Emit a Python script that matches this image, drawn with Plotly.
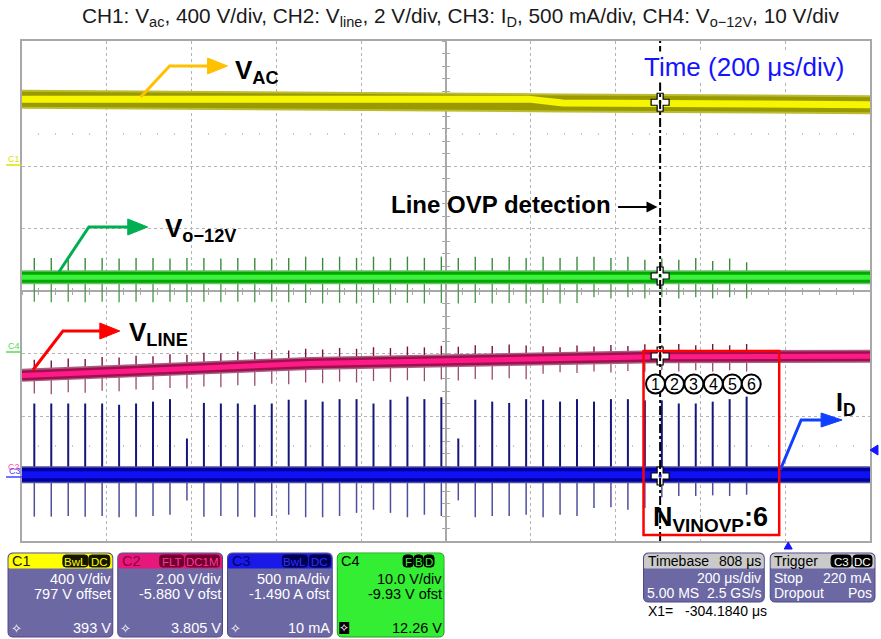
import numpy as np
import plotly.graph_objects as go

# ---------------- data (x: µs from left edge of 2 ms screen, y: screen divisions from centre) -------
pulse_us = [29, 69, 109, 149, 189, 229, 269, 309, 349, 389,
            429, 469, 509, 549, 589, 629, 669, 709, 749, 789,
            829, 869, 909, 949, 989, 1029, 1069, 1109, 1149, 1189,
            1229, 1269, 1309, 1349, 1389, 1429, 1469, 1509, 1549, 1589,
            1629, 1669, 1709]

# CH3 I_D
id_t = [0, 2000]
id_y = [-2.94, -2.94]
id_peak = [-1.80, -1.80, -1.80, -1.80, -1.80, -1.82, -1.80, -1.77, -1.73, -2.36,
           -1.79, -1.80, -1.80, -1.82, -1.80, -1.74, -1.74, -1.77, -1.73, -1.73,
           -1.80, -1.74, -1.69, -1.73, -1.70, -2.36, -1.74, -1.77, -1.79, -1.73,
           -1.74, -1.77, -1.73, -1.77, -1.73, -1.73, -1.75, -1.75, -1.80, -1.80,
           -1.77, -1.73, -1.69]
id_trough = [-3.61, -3.61, -3.60, -3.61, -3.60, -3.62, -3.61, -3.60, -3.58, -3.35,
             -3.61, -3.60, -3.61, -3.62, -3.60, -3.58, -3.62, -3.62, -3.60, -3.55,
             -3.50, -3.55, -3.62, -3.58, -3.60, -3.35, -3.62, -3.60, -3.60, -3.58,
             -3.62, -3.58, -3.60, -3.47, -3.46, -3.50, -3.47, -3.30, -3.28, -3.28,
             -3.27, -3.28, -3.26]

# CH4 Vo-12V
vo_t = [0, 2000]
vo_y = [0.22, 0.22]
vo_peak = [0.53, 0.53, 0.52, 0.53, 0.53, 0.52, 0.53, 0.53, 0.52, 0.53,
           0.53, 0.52, 0.53, 0.53, 0.52, 0.53, 0.55, 0.53, 0.55, 0.53,
           0.55, 0.53, 0.55, 0.53, 0.55, 0.53, 0.55, 0.53, 0.55, 0.53,
           0.55, 0.53, 0.55, 0.55, 0.53, 0.55, 0.50, 0.52, 0.50, 0.53,
           0.48, 0.52, 0.46]
vo_trough = [-0.17, -0.18, -0.17, -0.18, -0.17, -0.18, -0.17, -0.18, -0.17, -0.18,
             -0.17, -0.18, -0.17, -0.18, -0.17, -0.18, -0.19, -0.20, -0.19, -0.20,
             -0.19, -0.20, -0.19, -0.20, -0.19, -0.20, -0.19, -0.20, -0.19, -0.20,
             -0.19, -0.20, -0.19, -0.10, -0.12, -0.10, -0.12, -0.10, -0.12, -0.10,
             -0.12, -0.10, -0.12]

# CH2 Vline
vline_t = [0, 678, 1335, 1500, 2000]
vline_y = [-1.35, -1.16, -1.07, -1.05, -1.045]
vline_up = [0.24, 0.22, 0.24, 0.22, 0.24, 0.22, 0.24, 0.22, 0.24, 0.22,
            0.24, 0.22, 0.24, 0.22, 0.24, 0.22, 0.24, 0.22, 0.24, 0.22,
            0.24, 0.22, 0.24, 0.22, 0.24, 0.22, 0.24, 0.22, 0.24, 0.22,
            0.20, 0.18, 0.20, 0.18, 0.20, 0.18, 0.20, 0.18, 0.20, 0.18,
            0.20, 0.18, 0.20]
vline_dn = [0.30, 0.32, 0.30, 0.32, 0.30, 0.32, 0.30, 0.32, 0.30, 0.32,
            0.30, 0.32, 0.30, 0.32, 0.30, 0.32, 0.30, 0.32, 0.30, 0.32,
            0.30, 0.32, 0.30, 0.32, 0.30, 0.32, 0.30, 0.32, 0.30, 0.32,
            0.24, 0.22, 0.24, 0.22, 0.24, 0.22, 0.24, 0.22, 0.24, 0.22,
            0.24, 0.22, 0.24]

# CH1 Vac
vac_t = [0, 1195, 1275, 2000]
vac_y = [3.07, 3.07, 3.01, 2.98]

cursor_us = 1505
cursor_levels = [3.02, 0.24, -1.04, -2.96]
cursor_colors = ['#d0d000', '#00c000', '#ff2080', '#2020ff']
circle_labels = ['1', '2', '3', '4', '5', '6']

# ---------------- geometry helpers (pixel -> data / paper) ----------------
L, R, T, B = 22, 872, 41, 541
def X(px): return (px - L) / (R - L) * 2000
def Y(py): return (291 - py) / 62.5
def PX(px): return (px - L) / (R - L)
def PY(py): return (B - py) / (B - T)

FONT = "Liberation Sans, Arial, Helvetica, sans-serif"

fig = go.Figure()

def spike_trace(base_t, base_y, tops, color, width):
    xs, ys = [], []
    for t, top in zip(pulse_us, tops):
        b = float(np.interp(t, base_t, base_y))
        xs += [t, t, None]
        ys += [b, top, None]
    fig.add_trace(go.Scatter(x=xs, y=ys, mode='lines',
                             line=dict(color=color, width=width), hoverinfo='skip'))

def band(bt, by, fuzz, outer, core, w_fuzz, w_out, w_core):
    for c, w in [(fuzz, w_fuzz), (outer, w_out), (core, w_core)]:
        fig.add_trace(go.Scatter(x=bt, y=by, mode='lines', line=dict(color=c, width=w),
                                 hoverinfo='skip'))

# CH1
band(vac_t, vac_y, '#bcbc30', '#9a9a00', '#f6f600', 19, 15, 7)
# CH4
spike_trace(vo_t, vo_y, vo_peak, '#3a8c3a', 1.4)
spike_trace(vo_t, vo_y, vo_trough, '#4a944a', 1.3)
band(vo_t, vo_y, '#6ac06a', '#00a800', '#3cf03c', 14, 11, 5)
# CH2
vl_up_abs = [float(np.interp(t, vline_t, vline_y)) + u for t, u in zip(pulse_us, vline_up)]
vl_dn_abs = [float(np.interp(t, vline_t, vline_y)) - d for t, d in zip(pulse_us, vline_dn)]
spike_trace(vline_t, vline_y, vl_up_abs, '#7a1044', 1.4)
spike_trace(vline_t, vline_y, vl_dn_abs, '#9a4a70', 1.3)
band(vline_t, vline_y, '#a86080', '#a01050', '#ff1a88', 13, 10, 5)
# CH3
spike_trace(id_t, id_y, id_peak, '#16167a', 2)
spike_trace(id_t, id_y, id_trough, '#50509a', 1.5)
band(id_t, id_y, '#5050a0', '#0000a0', '#1010f5', 17, 14, 7)

# cursor crosses
fig.add_trace(go.Scatter(x=[cursor_us] * 4, y=cursor_levels, mode='markers',
                         marker=dict(symbol='cross', size=15, color='white',
                                     line=dict(color='black', width=1.2)),
                         hoverinfo='skip'))
fig.add_trace(go.Scatter(x=[cursor_us] * 4, y=cursor_levels, mode='markers',
                         marker=dict(symbol='square', size=3, color=cursor_colors),
                         hoverinfo='skip'))

# dummy traces to instantiate overlay axes
for xa, ya in [('x2', 'y'), ('x3', 'y'), ('x4', 'y'), ('x5', 'y'), ('x', 'y2'), ('x', 'y3')]:
    fig.add_trace(go.Scatter(x=[None], y=[None], xaxis=xa, yaxis=ya, showlegend=False))

GRID = '#b4b4b4'
AX = '#a8a8a8'
base_x = dict(range=[0, 2000], showticklabels=False, zeroline=False, showgrid=False)
base_y = dict(range=[-4, 4], showticklabels=False, zeroline=False, showgrid=False)

fig.update_layout(
    width=881, height=639, autosize=False,
    margin=dict(l=L, r=881 - R, t=T, b=639 - B, pad=0),
    paper_bgcolor='white', plot_bgcolor='white', showlegend=False,
    xaxis=dict(range=[0, 2000], showgrid=True, dtick=200, tick0=0, griddash='dot',
               gridcolor=GRID, gridwidth=1, showline=True, mirror=True, linecolor=AX,
               linewidth=1.5, ticks='', showticklabels=False, zeroline=False),
    yaxis=dict(range=[-4, 4], showgrid=True, dtick=1, tick0=0, griddash='dot',
               gridcolor=GRID, gridwidth=1, showline=True, mirror=True, linecolor=AX,
               linewidth=1.5, ticks='', showticklabels=False, zeroline=False),
    xaxis2=dict(base_x, overlaying='x', anchor='free', position=0.5, showline=True,
                linecolor=AX, linewidth=1.5, ticks='outside', ticklen=3, tickwidth=1,
                tickcolor=AX, dtick=40, tick0=0, layer='below traces'),
    xaxis3=dict(base_x, overlaying='x', anchor='free', position=0.5, showline=False,
                ticks='inside', ticklen=3, tickwidth=1, tickcolor=AX, dtick=40, tick0=0,
                layer='below traces'),
    xaxis4=dict(base_x, overlaying='x', anchor='free', position=0.8125, showline=False,
                ticks='inside', ticklen=2, tickwidth=1.2, tickcolor='#c4c4c4', dtick=40,
                tick0=0, layer='below traces'),
    xaxis5=dict(base_x, overlaying='x', anchor='free', position=0.1875, showline=False,
                ticks='inside', ticklen=2, tickwidth=1.2, tickcolor='#c4c4c4', dtick=40,
                tick0=0, layer='below traces'),
    yaxis2=dict(base_y, overlaying='y', anchor='free', position=0.5, showline=True,
                linecolor=AX, linewidth=1.5, ticks='outside', ticklen=3, tickwidth=1,
                tickcolor=AX, dtick=0.2, tick0=0, layer='below traces'),
    yaxis3=dict(base_y, overlaying='y', anchor='free', position=0.5, showline=False,
                ticks='inside', ticklen=3, tickwidth=1, tickcolor=AX, dtick=0.2, tick0=0,
                layer='below traces'),
)

shapes = []
ann = []

def txt(px, py, text, size, color, xanchor='left', bold=False, bg=None):
    if bold:
        text = '<b>' + text + '</b>'
    a = dict(x=PX(px), y=PY(py), xref='paper', yref='paper', text=text,
             showarrow=False, xanchor=xanchor, yanchor='middle',
             font=dict(family=FONT, size=size, color=color), borderpad=0)
    if bg:
        a['bgcolor'] = bg
    ann.append(a)

# title
txt(462, 17, "CH1: V<sub>ac</sub>, 400 V/div, CH2: V<sub>line</sub>, 2 V/div, CH3: I<sub>D</sub>, "
    "500 mA/div, CH4: V<sub>o\u221212V</sub>, 10 V/div", 20.8, '#1a1a1a', 'center')
txt(644, 67, "Time (200 \u03bcs/div)", 26, '#1414ff', bg='white')
txt(391, 205, "Line OVP detection", 24, 'black', bold=True)

# trace labels
txt(235, 71, "V<sub>AC</sub>", 26, 'black', bold=True)
txt(164, 229, "V<sub>o\u221212V</sub>", 26, 'black', bold=True)
txt(128, 333, "V<sub>LINE</sub>", 26, 'black', bold=True)
txt(837, 404, "I<sub>D</sub>", 25, 'black', bold=True)
txt(712, 519, "N<sub>VINOVP</sub>:6", 27, 'black', 'center', bold=True)

# Line OVP arrow
ann.append(dict(x=X(659), y=Y(207), ax=X(618), ay=Y(207), axref='x', ayref='y',
                xref='x', yref='y', text='', showarrow=True, arrowhead=2, arrowsize=1.1,
                arrowwidth=2, arrowcolor='black'))

def P(px, py):
    return f"{X(px):.3f},{Y(py):.4f}"

def bent_arrow(pts, head, color):
    path = "M " + " L ".join(P(a, b) for a, b in pts)
    shapes.append(dict(type='path', xref='x', yref='y', path=path,
                       line=dict(color=color, width=3)))
    hpath = "M " + " L ".join(P(a, b) for a, b in head) + " Z"
    shapes.append(dict(type='path', xref='x', yref='y', path=hpath,
                       fillcolor=color, line=dict(color=color, width=1)))

bent_arrow([(141, 97), (170, 66), (210, 66)], [(208, 58), (228, 66), (208, 74)], '#ffc000')
bent_arrow([(59, 272), (89, 227), (130, 227)], [(128, 219), (148, 227), (128, 235)], '#00b050')
bent_arrow([(33, 370), (63, 331), (102, 331)], [(100, 323), (120, 331), (100, 339)], '#ff0000')
bent_arrow([(782, 470), (803, 420), (826, 420)], [(823, 413), (844, 420), (823, 427)], '#1040ff')

# cursor dash-dot line (drawn below the text annotations)
shapes.append(dict(type='line', xref='x', yref='paper', x0=cursor_us, x1=cursor_us, y0=0, y1=1,
                   line=dict(color='black', width=2, dash='dashdot')))

# red box
shapes.append(dict(type='rect', xref='x', yref='y', x0=X(645), x1=X(781), y0=Y(535), y1=Y(351),
                   line=dict(color='#ff0000', width=2.5)))

# circled numbers
for cx, lab in zip([657, 676, 695.5, 715, 734, 753], circle_labels):
    shapes.append(dict(type='circle', xref='x', yref='y', x0=X(cx - 9.5), x1=X(cx + 9.5),
                       y0=Y(384 + 9.5), y1=Y(384 - 9.5), fillcolor='white',
                       line=dict(color='black', width=2)))
    ann.append(dict(x=X(cx), y=Y(384.5), xref='x', yref='y', text=lab, showarrow=False,
                    xanchor='center', yanchor='middle',
                    font=dict(family=FONT, size=16, color='black')))

# left channel markers
txt(7, 159, "C1", 9, '#e0e000')
shapes.append(dict(type='line', xref='paper', yref='paper', x0=PX(6), x1=PX(22), y0=PY(165),
                   y1=PY(165), line=dict(color='#e0e000', width=1.5)))
txt(7, 346, "C4", 9, '#55dd55')
shapes.append(dict(type='line', xref='paper', yref='paper', x0=PX(6), x1=PX(22), y0=PY(352),
                   y1=PY(352), line=dict(color='#55dd55', width=1.5)))
txt(7, 467, "C2", 9, '#ff55aa')
txt(8, 471, "C3", 9, '#4444ff')
shapes.append(dict(type='line', xref='paper', yref='paper', x0=PX(6), x1=PX(22), y0=PY(477),
                   y1=PY(477), line=dict(color='#4444ff', width=1.5)))

# trigger markers
def ppath(pts):
    return "M " + " L ".join(f"{PX(a):.5f},{PY(b):.5f}" for a, b in pts) + " Z"
shapes.append(dict(type='path', xref='paper', yref='paper', path=ppath([(872, 450), (880, 445), (880, 455)]),
                   fillcolor='#1515ff', line=dict(color='#1515ff', width=1)))
shapes.append(dict(type='path', xref='paper', yref='paper', path=ppath([(790, 542), (786, 549), (794, 549)]),
                   fillcolor='#1515ff', line=dict(color='#1515ff', width=1)))

# ---------------- bottom info boxes ----------------
def rpath(x0, y0, x1, y1, r, top_only=False):
    def Q(a, b):
        return f"{PX(a):.5f},{PY(b):.5f}"
    p = f"M {Q(x0 + r, y0)} L {Q(x1 - r, y0)} Q {Q(x1, y0)} {Q(x1, y0 + r)} "
    if top_only:
        p += f"L {Q(x1, y1)} L {Q(x0, y1)} "
    else:
        p += (f"L {Q(x1, y1 - r)} Q {Q(x1, y1)} {Q(x1 - r, y1)} L {Q(x0 + r, y1)} "
              f"Q {Q(x0, y1)} {Q(x0, y1 - r)} ")
    p += f"L {Q(x0, y0 + r)} Q {Q(x0, y0)} {Q(x0 + r, y0)} Z"
    return p

def rbox(x0, y0, x1, y1, fill, line, r=4, top_only=False, lw=1):
    shapes.append(dict(type='path', xref='paper', yref='paper', path=rpath(x0, y0, x1, y1, r, top_only),
                       fillcolor=fill, line=dict(color=line, width=lw)))

def badge(x0, x1, text, bg, fg, y0=555, y1=567):
    rbox(x0, y0, x1, y1, bg, bg, r=3)
    txt((x0 + x1) / 2, (y0 + y1) / 2 + 0.5, text, 11.5, fg, 'center')

BODY = '#6c68a4'
BORDER = '#4c4888'
FS = 14.5

channel_boxes = [
    dict(x0=8, x1=113, hdr='#ffff00', lab='C1', labc='#202000', badges=[(63, 88, 'BwL'), (89, 110, 'DC')],
         bbg='#151500', bfg='#ffff00', lines=['400 V/div', '797 V offset'], bottom='393 V', body=BODY, tc='white'),
    dict(x0=118, x1=223, hdr='#e8177c', lab='C2', labc='#8a0040', badges=[(160, 184, 'FLT'), (186, 220, 'DC1M')],
         bbg='#700030', bfg='#ff3a9a', lines=['2.00 V/div', '-5.880 V ofst'], bottom='3.805 V', body=BODY, tc='white'),
    dict(x0=228, x1=333, hdr='#1a1ae8', lab='C3', labc='#000070', badges=[(283, 308, 'BwL'), (310, 331, 'DC')],
         bbg='#000050', bfg='#3030ff', lines=['500 mA/div', '-1.490 A ofst'], bottom='10 mA', body=BODY, tc='white'),
    dict(x0=338, x1=445, hdr='#33ee33', lab='C4', labc='#000000', badges=[(404, 414, 'F'), (415, 424, 'B'), (425, 435, 'D')],
         bbg='#000000', bfg='#33ee33', lines=['10.0 V/div', '-9.93 V ofst'], bottom='12.26 V', body='#33ee33', tc='black'),
]
for cb in channel_boxes:
    rbox(cb['x0'], 553, cb['x1'], 637, cb['body'], BORDER if cb['lab'] != 'C4' else '#229922', r=5)
    rbox(cb['x0'] + 1, 554, cb['x1'] - 1, 568, cb['hdr'], cb['hdr'], r=4, top_only=True)
    txt(cb['x0'] + 3, 561, cb['lab'], FS, cb['labc'])
    for bx0, bx1, bt in cb['badges']:
        badge(bx0, bx1, bt, cb['bbg'], cb['bfg'])
    txt(cb['x1'] - 1, 579, cb['lines'][0], FS, cb['tc'], 'right')
    txt(cb['x1'] - 1, 594, cb['lines'][1], FS, cb['tc'], 'right')
    txt(cb['x1'] - 1, 628, cb['bottom'], FS, cb['tc'], 'right')
    if cb['lab'] == 'C4':
        shapes.append(dict(type='rect', xref='paper', yref='paper', x0=PX(340), x1=PX(350),
                           y0=PY(634), y1=PY(622), fillcolor='black', line=dict(width=0)))
        txt(345, 628, "\u2727", 12, 'white', 'center')
    else:
        txt(cb['x0'] + 8, 628, "\u2727", 13, 'white', 'center')

# timebase box
TS = 14
rbox(645, 553, 766, 602, BODY, BORDER, r=5)
rbox(646, 554, 765, 568, '#cacaca', '#cacaca', r=4, top_only=True)
txt(648, 561, "Timebase", TS, 'black')
txt(764, 561, "808 \u03bcs", TS, 'black', 'right')
txt(764, 578, "200 \u03bcs/div", TS, 'white', 'right')
txt(647, 593, "5.00 MS", TS, 'white')
txt(764, 593, "2.5 GS/s", TS, 'white', 'right')
txt(648, 611, "X1=   -304.1840 \u03bcs", TS, 'black')

# trigger box
rbox(772, 553, 877, 602, BODY, BORDER, r=5)
rbox(773, 554, 876, 568, '#cacaca', '#cacaca', r=4, top_only=True)
txt(775, 561, "Trigger", TS, 'black')
badge(833, 853, 'C3', '#000000', 'white')
badge(855, 874, 'DC', '#000000', 'white')
txt(775, 578, "Stop", TS, 'white')
txt(875, 578, "220 mA", TS, 'white', 'right')
txt(775, 593, "Dropout", TS, 'white')
txt(875, 593, "Pos", TS, 'white', 'right')

fig.update_layout(shapes=shapes, annotations=ann)
fig.write_html("out.html", config={'displayModeBar': False},
               post_script="document.body.style.margin='0px';document.body.style.overflow='hidden';")
